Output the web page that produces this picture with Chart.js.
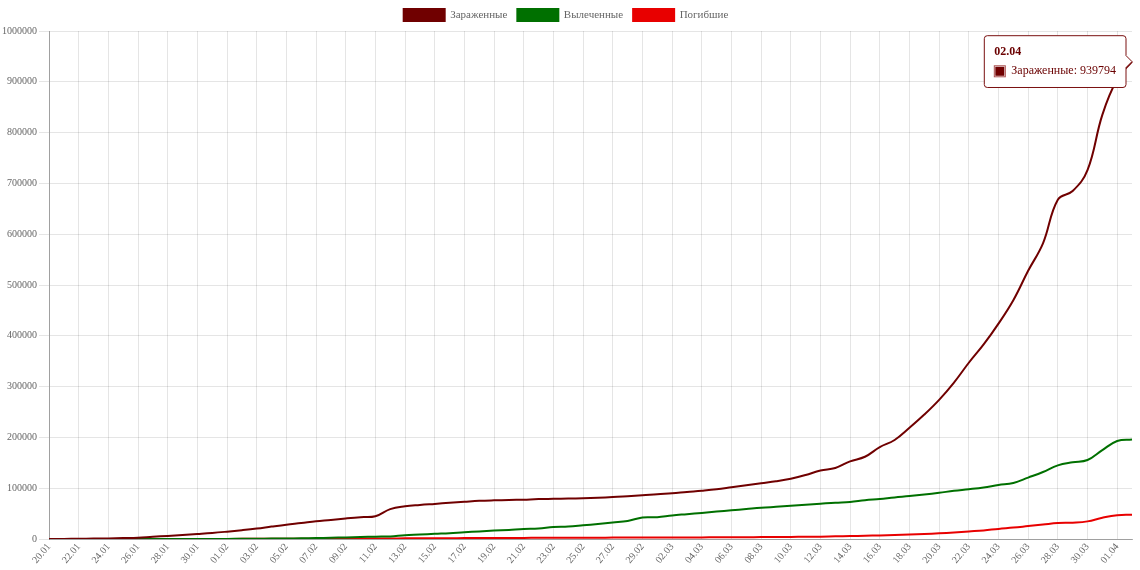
<!DOCTYPE html>
<html><head><meta charset="utf-8">
<script src="https://cdn.jsdelivr.net/npm/chart.js@4"></script>
<style>html,body{margin:0;padding:0;background:#fff}#wrap{width:1140px;height:570px;position:relative}</style>
</head><body><div id="wrap"><canvas id="c" width="1140" height="570"></canvas></div>
<script>
const dates = ["20.01","21.01","22.01","23.01","24.01","25.01","26.01","27.01","28.01","29.01","30.01","31.01",
"01.02","02.02","03.02","04.02","05.02","06.02","07.02","08.02","09.02","10.02","11.02","12.02","13.02","14.02","15.02","16.02","17.02","18.02","19.02","20.02","21.02","22.02","23.02","24.02","25.02","26.02","27.02","28.02","29.02",
"01.03","02.03","03.03","04.03","05.03","06.03","07.03","08.03","09.03","10.03","11.03","12.03","13.03","14.03","15.03","16.03","17.03","18.03","19.03","20.03","21.03","22.03","23.03","24.03","25.03","26.03","27.03","28.03","29.03","30.03","31.03",
"01.04","02.04"];
const infected = [282,314,581,846,1320,2014,2798,4593,6065,7818,9826,11953,
14557,17391,20630,24554,28276,31481,34886,37558,40554,43103,44863,59000,64500,67100,69200,71300,73300,75200,76200,76800,77600,78600,79100,79600,80400,81400,82700,84100,86000,
88400,90300,92800,95100,97900,101800,105800,109800,113600,118600,126000,135000,140000,153000,162000,181000,195000,219000,245000,274000,308000,347000,383000,424000,470000,528000,582000,668000,685000,726000,835000,
905000,939794];
const recovered = [0,0,28,30,36,39,52,61,107,126,143,222,
284,472,623,852,1124,1487,2011,2616,3244,3946,4683,5150,7500,8800,10300,11600,13500,15000,16600,18000,19700,20600,23500,24500,27000,29700,32500,35500,42500,
43000,46500,49000,51500,54000,56500,59000,61500,63500,65500,67500,69500,71500,73000,76500,79000,82000,84500,87500,91000,95000,98000,101500,106500,110500,121000,132000,145000,151000,155500,175000,
193000,196000];
const deaths = [6,6,17,18,26,42,56,82,131,133,171,213,
259,362,426,492,564,634,719,806,906,1013,1113,1118,1371,1523,1666,1770,1868,2007,2122,2247,2251,2458,2469,2629,2708,2770,2814,2872,2941,
2996,3085,3160,3254,3348,3460,3558,3802,3988,4262,4615,4720,5404,5819,6440,7126,7905,8733,9867,11299,13000,15000,17000,20000,22500,25500,28500,31500,32300,34800,42000,
47000,47800];
const seriesNames = ["Зараженные","Вылеченные","Погибшие"];
const seriesColors = ["#700000","#007000","#e80000"];

const serif = '"Liberation Serif","Times New Roman",serif';
Chart.defaults.font.family = serif;
Chart.defaults.color = '#666';

const mk = (i, data) => ({
  label: seriesNames[i], data: data,
  borderColor: seriesColors[i], backgroundColor: seriesColors[i],
  borderWidth: 2, pointRadius: 0, pointHoverRadius: 0, tension: 0.4, fill: false
});

const chart = new Chart(document.getElementById('c'), {
  type: 'line',
  data: { labels: dates, datasets: [mk(0, infected), mk(1, recovered), mk(2, deaths)] },
  options: {
    responsive: false, animation: false,
    layout: { padding: { left: 0, right: 8, top: -1, bottom: 2 } },
    interaction: { mode: 'nearest', intersect: false },
    plugins: {
      legend: {
        position: 'top',
        labels: { boxWidth: 41, boxHeight: 12, font: { size: 11, family: serif }, color: '#666', padding: 10 }
      },
      tooltip: {
        backgroundColor: '#ffffff',
        borderColor: '#7a1010', borderWidth: 1,
        titleColor: '#6a0000', bodyColor: '#6a0000',
        titleFont: { family: serif, size: 12, weight: 'bold' },
        bodyFont: { family: serif, size: 12 },
        padding: { x: 10, y: 9 }, titleMarginBottom: 5,
        caretPadding: 0, caretSize: 6, cornerRadius: 3,
        boxWidth: 11, boxHeight: 11, boxPadding: 4,
        callbacks: {
          label: (ctx) => ctx.dataset.label + ': ' + ctx.raw,
          labelColor: (ctx) => ({ borderColor: 'rgba(160,60,60,0.9)', backgroundColor: seriesColors[ctx.datasetIndex], borderWidth: 1 })
        }
      }
    },
    scales: {
      x: {
        grid: { color: 'rgba(0,0,0,0.1)', drawTicks: false },
        border: { color: 'rgba(0,0,0,0.3)' },
        ticks: {
          autoSkip: false, minRotation: 50, maxRotation: 50, padding: 2,
          font: { size: 10, family: serif }, color: '#666',
          callback: function(v, i) { return i % 2 === 0 ? dates[i] : null; }
        }
      },
      y: {
        min: 0, max: 1000000,
        grid: { color: 'rgba(0,0,0,0.1)', tickLength: 10 },
        border: { color: 'rgba(0,0,0,0.3)' },
        ticks: { stepSize: 100000, padding: 2, font: { size: 10, family: serif }, color: '#666', callback: (v) => String(v) }
      }
    }
  }
});

const pt = chart.getDatasetMeta(0).data[73];
chart.tooltip.setActiveElements([{ datasetIndex: 0, index: 73 }], { x: pt.x, y: pt.y });
chart.update();
</script></body></html>
